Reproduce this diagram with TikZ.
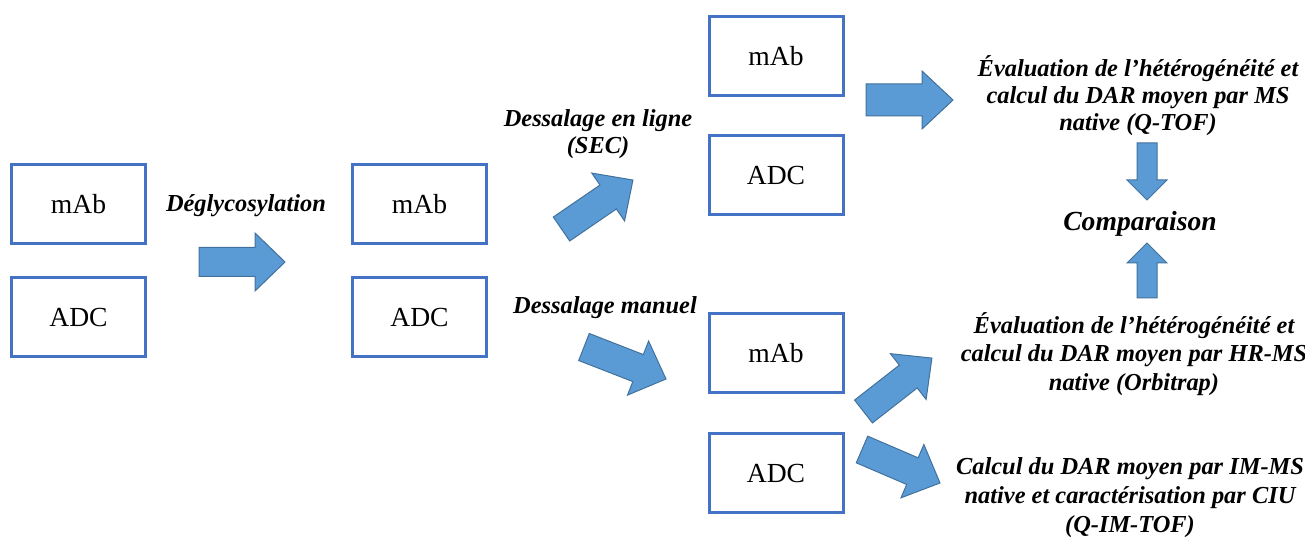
\documentclass[tikz,border=0pt]{standalone}
\usepackage{fontspec}
\setmainfont{Liberation Serif}
\usepackage{tikz}
\usetikzlibrary{calc}
\definecolor{boxblue}{HTML}{4472C4}
\definecolor{arrfill}{HTML}{5B9BD5}
\definecolor{arredge}{HTML}{41719C}

% block arrow: tail, tip, half shaft, half head, head length
\newcommand{\grossefleche}[5]{%
  \filldraw[fat] let \p1=(#1), \p2=(#2), \n1={atan2(\y2-\y1,\x2-\x1)}, \n2={veclen(\x2-\x1,\y2-\y1)} in
    [shift={(\p1)}, rotate=\n1]
    (0pt,-#3) -- ({\n2*1pt-#5},-#3) -- ({\n2*1pt-#5},-#4) -- ({\n2*1pt},0pt)
    -- ({\n2*1pt-#5},#4) -- ({\n2*1pt-#5},#3) -- (0pt,#3) -- cycle;
}

\begin{document}
\begin{tikzpicture}[x=0.5pt, y=-0.5pt,
  echant/.style={draw=boxblue, line width=1.5pt, minimum width=67pt, minimum height=39.5pt,
    font=\fontsize{13.8}{16}\selectfont},
  etape/.style={font=\bfseries\itshape\fontsize{12.2}{13.5}\selectfont, align=center},
  fat/.style={fill=arrfill, draw=arredge, line width=0.5pt}]
\useasboundingbox (0,0) rectangle (1305,539);

\foreach \nom/\x/\y/\txt in {mAbA/78.5/204/mAb, adcA/78.5/317/ADC, mAbB/419.5/204/mAb, adcB/419.5/317/ADC,
  mAbSEC/776/56/mAb, adcSEC/776/175/ADC, mAbMan/776/353/mAb, adcMan/776/473/ADC}
  \node[echant] (\nom) at (\x,\y) {\txt};

\node[etape] (deglyco) at (246,206) {Déglycosylation};
\node[etape] (dessLigne) at (598,134) {Dessalage en ligne\\(SEC)};
\node[etape] (dessMan) at (605,308) {Dessalage manuel};
\node[etape] (evalQtof) at (1138,96) {Évaluation de l’hétérogénéité et\\calcul du DAR moyen par MS\\native (Q-TOF)};
\node[etape, font=\bfseries\itshape\fontsize{13.8}{16}\selectfont] (compar) at (1140,224) {Comparaison};
\node[etape, font=\bfseries\itshape\fontsize{12.2}{14.2}\selectfont] (evalOrbi) at (1134,354) {Évaluation de l’hétérogénéité et\\calcul du DAR moyen par HR-MS\\native (Orbitrap)};
\node[etape, font=\bfseries\itshape\fontsize{12.2}{14.5}\selectfont] (calcCiu) at (1130,498) {Calcul du DAR moyen par IM-MS\\native et caractérisation par CIU\\(Q-IM-TOF)};

\coordinate (dgA) at (199,262);   \coordinate (dgB) at (285,262);
\coordinate (secA) at (561.5,229); \coordinate (secB) at (633,180);
\coordinate (manA) at (584,347);  \coordinate (manB) at (666,379);
\coordinate (qtA) at (866,100);   \coordinate (qtB) at (953,100);
\coordinate (orA) at (863.5,411.5); \coordinate (orB) at (932,358);
\coordinate (ciA) at (862,449.5); \coordinate (ciB) at (940,483);
\coordinate (dnA) at (1147,143);  \coordinate (dnB) at (1147,200);
\coordinate (upA) at (1147,298);  \coordinate (upB) at (1147,243);

\grossefleche{dgA}{dgB}{7.25pt}{14.5pt}{15pt}
\grossefleche{secA}{secB}{7.25pt}{14.5pt}{15pt}
\grossefleche{manA}{manB}{7.25pt}{14.5pt}{15pt}
\grossefleche{qtA}{qtB}{8pt}{14.5pt}{15.5pt}
\grossefleche{orA}{orB}{7.25pt}{14.5pt}{15pt}
\grossefleche{ciA}{ciB}{7.25pt}{14.5pt}{15pt}
\grossefleche{dnA}{dnB}{5pt}{10pt}{10pt}
\grossefleche{upA}{upB}{5pt}{10pt}{10pt}

\end{tikzpicture}
\end{document}
